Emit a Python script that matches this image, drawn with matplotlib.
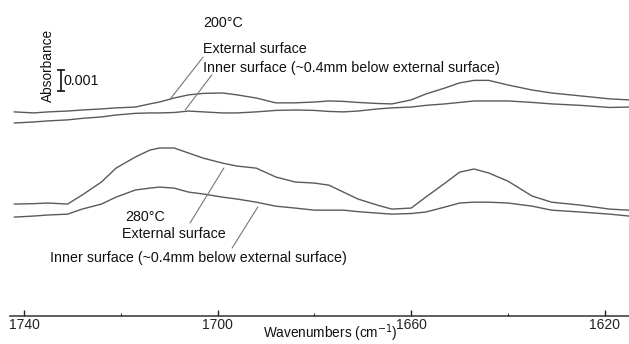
import matplotlib
matplotlib.use("Agg")
import matplotlib.pyplot as plt
from matplotlib import font_manager
from matplotlib.ticker import FixedLocator
import numpy as np

# narrow face if present, otherwise plain Liberation Sans at a smaller size
try:
    font_manager.findfont('Liberation Sans Narrow', fallback_to_default=False)
    family, fs_txt, fs_tick = 'Liberation Sans Narrow', 12, 12
except ValueError:
    family, fs_txt, fs_tick = 'Liberation Sans', 10.3, 10
plt.rcParams['font.family'] = [family, 'DejaVu Sans']

# wavenumbers (cm-1) shared by all four spectra
wavenumbers = [1742, 1738, 1735, 1731, 1728, 1724, 1721, 1717, 1714, 1712,
               1709, 1706, 1703, 1699, 1696, 1692, 1688, 1684, 1680, 1677,
               1674, 1671, 1667, 1664, 1660, 1657, 1653, 1650, 1647, 1644,
               1640, 1635, 1631, 1625, 1619, 1615]

# absorbance in units of 0.001, relative to each pair's baseline
ext_200 = [0.67, 0.62, 0.67, 0.71, 0.76, 0.81, 0.86, 0.90, 1.05, 1.14,
           1.33, 1.48, 1.55, 1.57, 1.48, 1.33, 1.10, 1.10, 1.14, 1.19,
           1.17, 1.12, 1.07, 1.05, 1.24, 1.52, 1.81, 2.05, 2.17, 2.17,
           1.95, 1.71, 1.57, 1.43, 1.29, 1.24]
inn_200 = [0.14, 0.19, 0.24, 0.29, 0.36, 0.43, 0.52, 0.60, 0.62, 0.62,
           0.64, 0.71, 0.67, 0.62, 0.62, 0.67, 0.74, 0.76, 0.74, 0.69,
           0.67, 0.71, 0.81, 0.86, 0.90, 0.98, 1.05, 1.12, 1.19, 1.19,
           1.19, 1.12, 1.05, 0.98, 0.88, 0.90]
ext_280 = [0.81, 0.83, 0.86, 0.81, 1.24, 1.86, 2.52, 3.05, 3.38, 3.48,
           3.48, 3.24, 3.00, 2.76, 2.62, 2.52, 2.10, 1.86, 1.81, 1.71,
           1.38, 1.05, 0.76, 0.57, 0.62, 1.14, 1.81, 2.33, 2.48, 2.29,
           1.90, 1.19, 0.90, 0.76, 0.57, 0.52]
inn_280 = [0.19, 0.24, 0.29, 0.33, 0.57, 0.81, 1.14, 1.48, 1.57, 1.62,
           1.57, 1.38, 1.29, 1.14, 1.05, 0.90, 0.71, 0.62, 0.52, 0.52,
           0.52, 0.45, 0.38, 0.33, 0.36, 0.43, 0.67, 0.86, 0.90, 0.90,
           0.86, 0.71, 0.52, 0.43, 0.33, 0.24]

offset_200 = 9.05
offset_280 = 4.52

major_ticks = [1740, 1700, 1660, 1620]
minor_ticks = [1720, 1680, 1640]

fig = plt.figure(figsize=(6.29, 3.44), dpi=100)
ax = fig.add_axes([10 / 629, 28 / 344, 619 / 629, 316 / 344])

wn = np.array(wavenumbers)
line_kw = dict(color='#5a5a5a', lw=1.0)
for vals, off in [(ext_200, offset_200), (inn_200, offset_200),
                  (ext_280, offset_280), (inn_280, offset_280)]:
    ax.plot(wn, (np.array(vals) + off) * 1e-3, **line_kw)

ax.set_xlim(1742.9, 1615.0)
ax.set_ylim(0, 316 / 21 * 1e-3)

for s in ['left', 'top', 'right']:
    ax.spines[s].set_visible(False)
ax.spines['bottom'].set_linewidth(1.1)
ax.spines['bottom'].set_color('#333333')
ax.set_yticks([])
ax.xaxis.set_major_locator(FixedLocator(major_ticks))
ax.xaxis.set_minor_locator(FixedLocator(minor_ticks))
ax.tick_params(axis='x', which='major', direction='in', length=4, width=1,
               labelsize=fs_tick, pad=1.5, colors='#222222')
ax.tick_params(axis='x', which='minor', direction='in', length=2.5, width=0.8,
               colors='#333333')
ax.set_xlabel('Wavenumbers (cm$^{-1}$)', fontsize=fs_txt - 0.5, color='#111111')
ax.xaxis.set_label_coords((330 - 10) / 619, (316 - 322) / 316)

# scale bar: 0.001 absorbance
bx = 1732.4
by0 = 10.71e-3
ax.plot([bx, bx], [by0, by0 + 1e-3], color='#222222', lw=1.3)
ax.plot([bx, bx], [by0, by0 + 1e-3], ls='none', marker='_', ms=6,
        mew=1.3, color='#222222')
ax.text(bx - 0.5, by0 + 0.5e-3, '0.001', fontsize=fs_txt, va='center',
        ha='left', color='#111111')
ax.text(1735.0, 11.95e-3, 'Absorbance', fontsize=fs_txt - 0.5, rotation=90,
        va='center', ha='center', color='#111111')

txt_kw = dict(fontsize=fs_txt, va='center', ha='left', color='#111111')
lead_kw = dict(arrowprops=dict(arrowstyle='-', color='#777777', lw=0.8,
                               shrinkA=0, shrinkB=0))

# 200 C labels
ax.text(1703.0, 13.95e-3, '200°C', **txt_kw)
ax.text(1703.0, 12.71e-3, 'External surface', **txt_kw)
ax.text(1703.0, 11.81e-3, 'Inner surface (~0.4mm below external surface)', **txt_kw)
ax.annotate('', xy=(1709.8, 10.33e-3), xytext=(1703.0, 12.33e-3), **lead_kw)
ax.annotate('', xy=(1706.7, 9.81e-3), xytext=(1701.2, 11.48e-3), **lead_kw)

# 280 C labels
ax.text(1719.1, 4.71e-3, '280°C', **txt_kw)
ax.text(1719.8, 3.90e-3, 'External surface', **txt_kw)
ax.text(1734.6, 2.76e-3, 'Inner surface (~0.4mm below external surface)', **txt_kw)
ax.annotate('', xy=(1698.7, 7.05e-3), xytext=(1705.7, 4.43e-3), **lead_kw)
ax.annotate('', xy=(1691.7, 5.19e-3), xytext=(1697.0, 3.24e-3), **lead_kw)

fig.savefig('out.png', dpi=100)
